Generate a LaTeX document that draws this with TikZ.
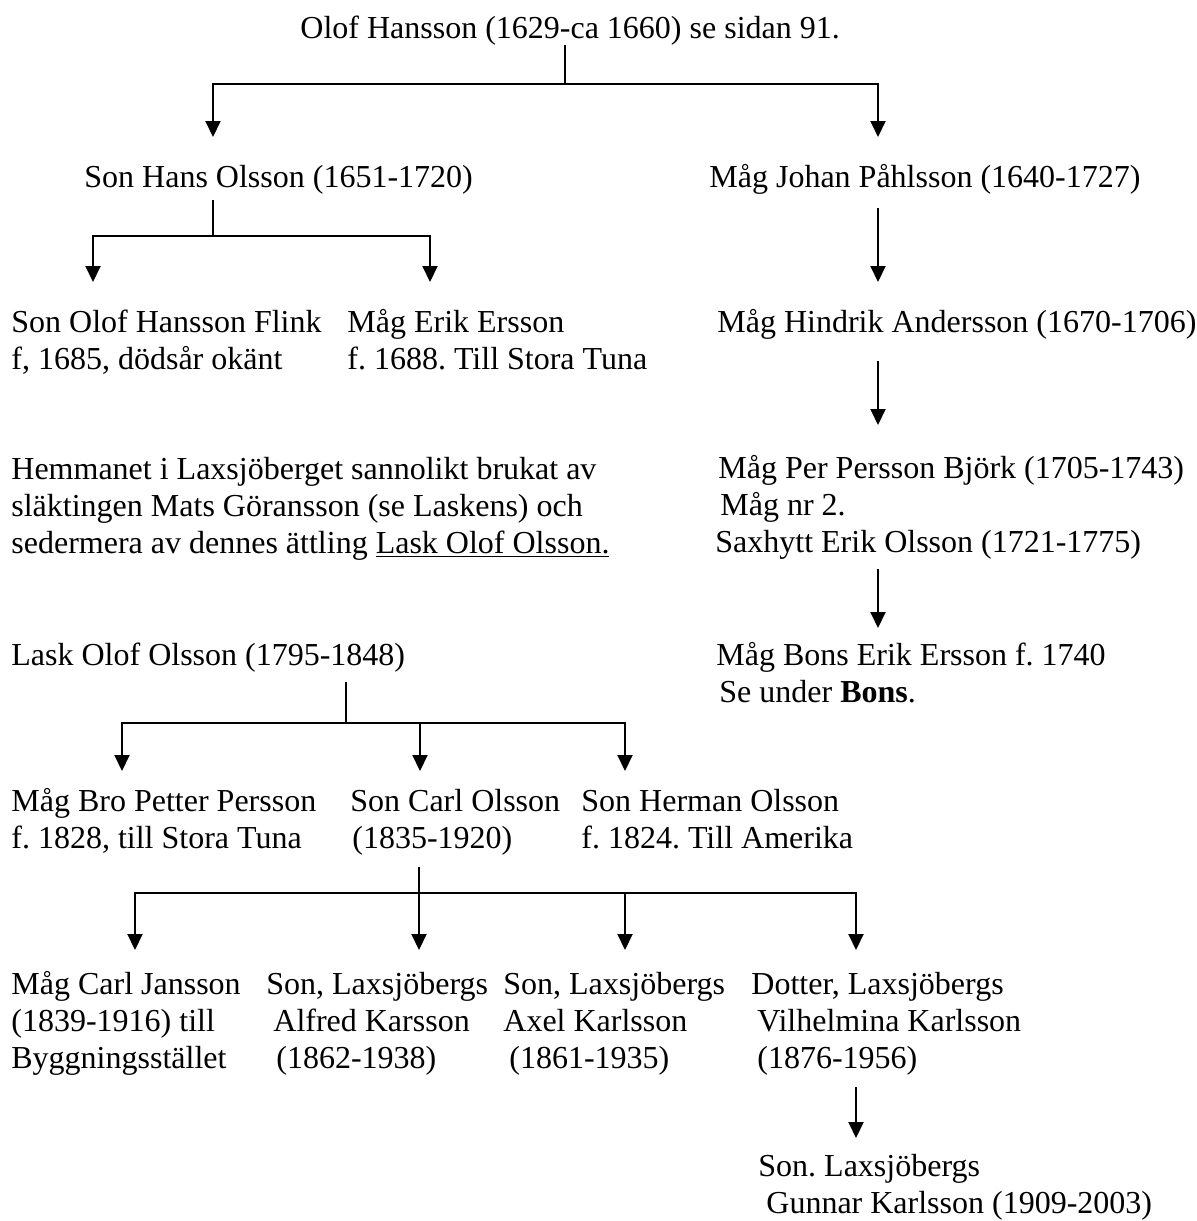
\documentclass[tikz,border=0pt]{standalone}
\usepackage{fontspec}
\setmainfont{Liberation Serif}
\usetikzlibrary{arrows.meta}
\frenchspacing
\newcommand{\treefont}{\fontsize{16}{18.5}\selectfont}
\tikzset{
    person/.style={
        anchor = base west, align = left,
        inner sep = 0pt, font = \treefont
    },
    stem/.style = {line width = 0.8pt},
    line/.style = {-{Triangle[length=8pt,width=7.5pt]}, line width = 1pt}
}

\begin{document}
\begin{tikzpicture}[x=0.5pt, y=-0.5pt]
\useasboundingbox (0,0) rectangle (1197,1221);

% Olof Hansson and his two lines
\node[person] (title) at (300,38) {Olof Hansson (1629-ca 1660) se sidan 91.};
\coordinate (j1) at (565,84);
\coordinate (a1) at (213,137);
\coordinate (a2) at (878,137);
\draw[stem] (title.south -| j1) -- (j1);
\draw[line] (j1) -| (a1);
\draw[line] (j1) -| (a2);

\node[person] (hans) at (84,187) {Son Hans Olsson (1651-1720)};
\node[person] (johan) at (709,187) {Måg Johan Påhlsson (1640-1727)};

% Children of Hans (base = last line)
\coordinate (j2) at (213,236);
\coordinate (a3) at (93,282);
\coordinate (a4) at (430,282);
\draw[stem] ([yshift=-3pt]hans.south -| j2) -- (j2);
\draw[line] (j2) -| (a3);
\draw[line] (j2) -| (a4);

\node[person] (olof) at (11,369) {Son Olof Hansson Flink\\f, 1685, dödsår okänt};
\node[person] (erik) at (347,369) {Måg Erik Ersson\\f. 1688. Till Stora Tuna};

% Right hand line
\coordinate (a5) at (878,282);
\coordinate (a6) at (878,425);
\coordinate (a7) at (878,628);
\draw[line] ([yshift=-7pt]johan.south -| a5) -- (a5);
\node[person] (hindrik) at (717,332) {Måg Hindrik Andersson (1670-1706)};
\draw[line] ([yshift=-11pt]hindrik.south -| a6) -- (a6);
\node[person] (per) at (718,552) {Måg Per Persson Björk (1705-1743)\\
    \hspace*{1pt}Måg nr 2.\\
    \hspace*{-1.5pt}Saxhytt Erik Olsson (1721-1775)};
\draw[line] ([yshift=-5pt]per.south -| a7) -- (a7);
\node[person] (bons) at (716,702) {Måg Bons Erik Ersson f. 1740\\
    \hspace*{1.5pt}Se under \textbf{Bons}.};

% Note on the homestead
\node[person] (note) at (11,553) {Hemmanet i Laxsjöberget sannolikt brukat av\\
    släktingen Mats Göransson (se Laskens) och\\
    sedermera av dennes ättling \underline{Lask Olof Olsson.}};

% Lask Olof Olsson and children
\node[person] (lask) at (11,665) {Lask Olof Olsson (1795-1848)};
\coordinate (j4) at (346,723);
\coordinate (b1) at (122,771);
\coordinate (b2) at (420,771);
\coordinate (b3) at (625,771);
\draw[stem] ([yshift=-5pt]lask.south -| j4) -- (j4);
\draw[line] (j4) -| (b1);
\draw[line] (j4) -| (b2);
\draw[line] (j4) -| (b3);

\node[person] (bro) at (11,848) {Måg Bro Petter Persson\\f. 1828, till Stora Tuna};
\node[person] (carl) at (350,848) {Son Carl Olsson\\\hspace*{1pt}(1835-1920)};
\node[person] (herman) at (581,848) {Son Herman Olsson\\f. 1824. Till Amerika};

% Children of Carl Olsson
\coordinate (j5) at (419,893);
\coordinate (c0) at (135,950);
\coordinate (c1) at (419,950);
\coordinate (c2) at (625,950);
\coordinate (c3) at (856,950);
\draw[line] ([yshift=-6pt]carl.south -| c1) -- (c1);
\draw[line] (j5) -| (c0);
\draw[line] (j5) -| (c2);
\draw[line] (j5) -| (c3);

\node[person] (carlj) at (11,1068) {Måg Carl Jansson\\(1839-1916) till\\Byggningsstället};
\node[person] (alfred) at (266,1068) {Son, Laxsjöbergs\\
    \hspace*{3.5pt}Alfred Karsson\\
    \hspace*{5pt}(1862-1938)};
\node[person] (axel) at (503,1068) {Son, Laxsjöbergs\\
    Axel Karlsson\\
    \hspace*{3pt}(1861-1935)};
\node[person] (vilhelmina) at (751,1068) {Dotter, Laxsjöbergs\\
    \hspace*{3pt}Vilhelmina Karlsson\\
    \hspace*{3pt}(1876-1956)};

% Vilhelmina to Gunnar
\coordinate (c4) at (856,1138);
\draw[line] ([yshift=-6pt]vilhelmina.south -| c4) -- (c4);
\node[person] (gunnar) at (758,1213) {Son. Laxsjöbergs\\
    \hspace*{4pt}Gunnar Karlsson (1909-2003)};

\end{tikzpicture}
\end{document}
